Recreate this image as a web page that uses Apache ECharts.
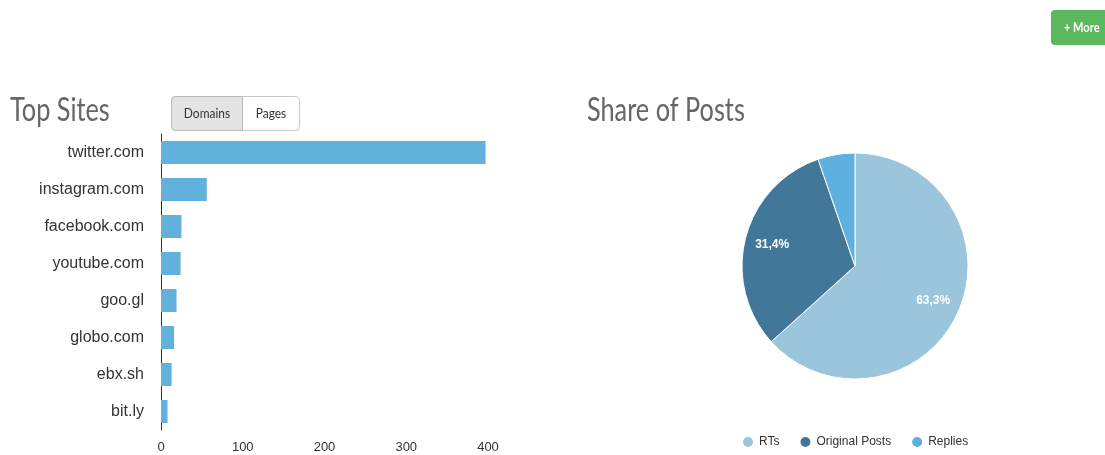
<!DOCTYPE html>
<html><head><meta charset="utf-8">
<script src="https://cdn.jsdelivr.net/npm/echarts@6/dist/echarts.min.js"></script>
<style>html,body{margin:0;padding:0;background:#fff;}#c{width:1105px;height:455px;}</style>
</head><body><div id="c"></div>
<script>
const sites = ['twitter.com','instagram.com','facebook.com','youtube.com','goo.gl','globo.com','ebx.sh','bit.ly'];
const siteCounts = [397, 56, 25, 24, 19, 16, 13, 8];
const xTicks = [0, 100, 200, 300, 400];
const shareNames = ['RTs','Original Posts','Replies'];
const shareValues = [63.3, 31.4, 5.3];
const shareColors = ['#9bc5dd','#41789a','#5eb1de'];

const chart = echarts.init(document.getElementById('c'));
const pieData = shareNames.map((n,i)=>({name:n, value:shareValues[i], itemStyle:{color:shareColors[i]}}));
const fmt = p => p.value.toFixed(1).replace('.', ',') + '%';
const titleFont = '400 32px Lato, "Open Sans", sans-serif';
chart.setOption({
  animation:false,
  graphic:[
    {type:'text', x:10, y:111, scaleX:0.79, style:{text:'Top Sites', fill:'#666', font:titleFont, textVerticalAlign:'middle'}},
    {type:'text', x:587, y:111, scaleX:0.79, style:{text:'Share of Posts', fill:'#666', font:titleFont, textVerticalAlign:'middle'}},
    {type:'rect', shape:{x:171.5,y:96.5,width:128,height:34,r:4}, style:{fill:'#fff', stroke:'#c8c8c8', lineWidth:1}},
    {type:'rect', shape:{x:171.5,y:96.5,width:71,height:34,r:[4,0,0,4]}, style:{fill:'#e4e4e4', stroke:'#b8b8b8', lineWidth:1}},
    {type:'text', x:207, y:114, scaleX:0.92, style:{text:'Domains', fill:'#333', font:'13px Lato, sans-serif', textAlign:'center', textVerticalAlign:'middle'}},
    {type:'text', x:271, y:114, scaleX:0.92, style:{text:'Pages', fill:'#333', font:'13px Lato, sans-serif', textAlign:'center', textVerticalAlign:'middle'}},
    {type:'rect', shape:{x:1051,y:10,width:70,height:35,r:4}, style:{fill:'#5cb85c'}},
    {type:'text', x:1064, y:28, scaleX:0.85, style:{text:'+ More', fill:'#fff', font:'bold 13px Lato, sans-serif', textVerticalAlign:'middle'}}
  ],
  grid:{left:161, width:327, top:134, height:296, containLabel:false},
  xAxis:{type:'value', min:0, max:400, interval:100, axisLine:{show:false}, axisTick:{show:false}, splitLine:{show:false},
    axisLabel:{color:'#333', fontSize:13, fontFamily:'Liberation Sans', margin:11}},
  yAxis:{type:'category', data:sites, inverse:true, axisLine:{show:true, lineStyle:{color:'#333', width:1}}, axisTick:{show:false},
    axisLabel:{color:'#333', fontSize:16, fontFamily:'Liberation Sans', margin:17}},
  legend:{data:shareNames, left:736, top:430, icon:'circle', itemWidth:12, itemHeight:12, itemGap:19,
    textStyle:{color:'#333', fontSize:12, fontFamily:'Liberation Sans'}},
  series:[
    {type:'bar', data:siteCounts, barWidth:23, itemStyle:{color:'#62b1dd'}},
    {type:'pie', name:'share', center:[855,266], radius:[0,113], startAngle:90, clockwise:true, data:pieData,
      itemStyle:{borderColor:'#fff', borderWidth:1}, label:{show:false}, labelLine:{show:false}},
    {type:'pie', name:'labels', silent:true, center:[855,266], radius:[52,113], startAngle:90, clockwise:true,
      data:shareNames.map((n,i)=>({name:n, value:shareValues[i], itemStyle:{color:'rgba(0,0,0,0)'},
        label:{show:i<2}})),
      label:{position:'inside', formatter:fmt, color:'#fff', fontSize:12, fontWeight:'bold', fontFamily:'Liberation Sans', textBorderWidth:0},
      labelLine:{show:false}, emphasis:{disabled:true}}
  ]
});
</script></body></html>
